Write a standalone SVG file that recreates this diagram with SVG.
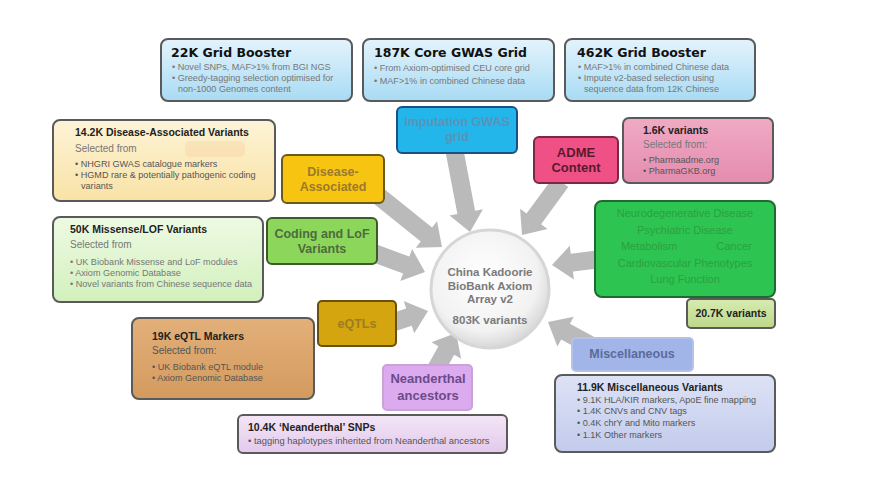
<svg xmlns="http://www.w3.org/2000/svg" width="881" height="497" viewBox="0 0 881 497">
<defs>
<linearGradient id="gBlue" x1="0" y1="0" x2="0" y2="1"><stop offset="0" stop-color="#e4f3fc"/><stop offset="1" stop-color="#a8dbf4"/></linearGradient>
<linearGradient id="gCream" x1="0" y1="0" x2="0" y2="1"><stop offset="0" stop-color="#fdf3d6"/><stop offset="1" stop-color="#f9e2a6"/></linearGradient>
<linearGradient id="gLGreen" x1="0" y1="0" x2="0" y2="1"><stop offset="0" stop-color="#eefae4"/><stop offset="1" stop-color="#d2f0bc"/></linearGradient>
<linearGradient id="gTan" x1="0" y1="0" x2="0" y2="1"><stop offset="0" stop-color="#e3b07a"/><stop offset="1" stop-color="#d39a5e"/></linearGradient>
<linearGradient id="gLav" x1="0" y1="0" x2="0" y2="1"><stop offset="0" stop-color="#f3e6f6"/><stop offset="1" stop-color="#e3c9ec"/></linearGradient>
<linearGradient id="gPink" x1="0" y1="0" x2="0" y2="1"><stop offset="0" stop-color="#f0aac4"/><stop offset="1" stop-color="#e48cae"/></linearGradient>
<linearGradient id="gPeri" x1="0" y1="0" x2="0" y2="1"><stop offset="0" stop-color="#dde2f5"/><stop offset="1" stop-color="#c3cbec"/></linearGradient>
<linearGradient id="gOlive" x1="0" y1="0" x2="0" y2="1"><stop offset="0" stop-color="#d8ebb0"/><stop offset="1" stop-color="#bcd88a"/></linearGradient>
<radialGradient id="gCircle" cx="0.45" cy="0.4" r="0.65"><stop offset="0" stop-color="#ffffff"/><stop offset="0.7" stop-color="#f2f2f2"/><stop offset="1" stop-color="#cfcfcf"/></radialGradient>
</defs>
<style>
.info{stroke:#5a5a5a;stroke-width:2}
.cat{stroke-width:2}
.ttl{font-family:"DejaVu Sans",sans-serif;font-weight:bold;font-size:12.5px;fill:#111}
.hd{font-family:"Liberation Sans",Arial,sans-serif;font-weight:bold;font-size:10.5px;fill:#222}
.sel{font-family:"Liberation Sans",Arial,sans-serif;font-size:10px;fill:#777}
.bl{font-family:"Liberation Sans",Arial,sans-serif;font-size:9.1px;fill:#777}
.bld{font-family:"Liberation Sans",Arial,sans-serif;font-size:9.1px;fill:#555}
.lbl{font-family:"Liberation Sans",Arial,sans-serif;font-weight:bold;font-size:12.5px;text-anchor:middle}
.arr{fill:#bababa}
</style>
<rect width="881" height="497" fill="#ffffff"/>

<g id="connectors">
<path class="arr" transform="translate(470,232) rotate(79.2)" d="M0,0 L-20,-17 L-20,-9 L-82,-9 L-82,9 L-20,9 L-20,17 Z"/>
<path class="arr" transform="translate(522,235) rotate(126.2)" d="M0,0 L-20,-17 L-20,-9 L-66,-9 L-66,9 L-20,9 L-20,17 Z"/>
<path class="arr" transform="translate(442,247) rotate(38.8)" d="M0,0 L-20,-17 L-20,-9 L-99,-9 L-99,9 L-20,9 L-20,17 Z"/>
<path class="arr" transform="translate(425,272) rotate(20.3)" d="M0,0 L-20,-17 L-20,-9 L-72,-9 L-72,9 L-20,9 L-20,17 Z"/>
<path class="arr" transform="translate(428,311) rotate(-18)" d="M0,0 L-20,-17 L-20,-9 L-48,-9 L-48,9 L-20,9 L-20,17 Z"/>
<path class="arr" transform="translate(456,333) rotate(-61)" d="M0,0 L-20,-17 L-20,-9 L-50,-9 L-50,9 L-20,9 L-20,17 Z"/>
<path class="arr" transform="translate(552,265) rotate(173)" d="M0,0 L-20,-17 L-20,-9 L-62,-9 L-62,9 L-20,9 L-20,17 Z"/>
<path class="arr" transform="translate(548,322) rotate(208.7)" d="M0,0 L-20,-17 L-20,-9 L-50,-9 L-50,9 L-20,9 L-20,17 Z"/>
</g>

<g id="center">
<circle cx="490" cy="289" r="59" fill="url(#gCircle)" stroke="#d6d6d6" stroke-width="3"/>
<g class="lbl" fill="#7a7a7a" style="font-size:11.5px">
<text x="490" y="276">China Kadoorie</text>
<text x="490" y="290">BioBank Axiom</text>
<text x="490" y="303">Array v2</text>
<text x="490" y="324">803K variants</text>
</g>
</g>

<g id="grid22k">
<rect class="info" x="161" y="39" width="191" height="62" rx="7" fill="url(#gBlue)"/>
<text class="ttl" x="171" y="57">22K Grid Booster</text>
<text class="bl" x="172" y="70">•  Novel SNPs, MAF&gt;1% from BGI NGS</text>
<text class="bl" x="172" y="81">•  Greedy-tagging selection optimised for</text>
<text class="bl" x="178" y="92">non-1000 Genomes content</text>
</g>

<g id="grid187k">
<rect class="info" x="363" y="39" width="191" height="62" rx="7" fill="url(#gBlue)"/>
<text class="ttl" x="374" y="57">187K Core GWAS Grid</text>
<text class="bl" x="374" y="71">•  From Axiom-optimised CEU core grid</text>
<text class="bl" x="374" y="84">•  MAF&gt;1% in combined Chinese data</text>
</g>

<g id="grid462k">
<rect class="info" x="565" y="39" width="190" height="62" rx="7" fill="url(#gBlue)"/>
<text class="ttl" x="577" y="57">462K Grid Booster</text>
<text class="bl" x="578" y="70">•  MAF&gt;1% in combined Chinese data</text>
<text class="bl" x="578" y="81">•  Impute v2-based selection using</text>
<text class="bl" x="584" y="92">sequence data from 12K Chinese</text>
</g>

<g id="imputation">
<rect class="cat" x="397" y="107" width="120" height="46" rx="5" fill="#22b6eb" stroke="#1d4f86"/>
<text class="lbl" x="457" y="126" fill="#5b93b8">Imputation GWAS</text>
<text class="lbl" x="457" y="141" fill="#5b93b8">grid</text>
</g>

<g id="adme">
<rect class="cat" x="534" y="137" width="84" height="46" rx="5" fill="#ef5186" stroke="#7a2a40"/>
<text class="lbl" x="576" y="157" fill="#5a1a2e" style="font-size:13px">ADME</text>
<text class="lbl" x="576" y="172" fill="#5a1a2e" style="font-size:13px">Content</text>
</g>

<g id="adme-info">
<rect class="info" x="623" y="118" width="150" height="65" rx="6" fill="url(#gPink)"/>
<text class="hd" x="643" y="134">1.6K variants</text>
<text class="sel" x="643" y="148">Selected from:</text>
<text class="bld" x="643" y="163">•  Pharmaadme.org</text>
<text class="bld" x="643" y="174">•  PharmaGKB.org</text>
</g>

<g id="disease">
<rect class="cat" x="282" y="155" width="102" height="48" rx="5" fill="#f7c511" stroke="#6a5a1a"/>
<text class="lbl" x="333" y="176" fill="#9a7a2c">Disease-</text>
<text class="lbl" x="333" y="191" fill="#9a7a2c">Associated</text>
</g>

<g id="disease-info">
<rect class="info" x="53" y="120" width="222" height="81" rx="7" fill="url(#gCream)"/>
<rect x="185" y="141" width="60" height="16" rx="5" fill="#f7d4a4" opacity="0.45"/>
<text class="hd" x="75" y="136">14.2K Disease-Associated Variants</text>
<text class="sel" x="75" y="152">Selected from</text>
<text class="bld" x="75" y="167">•  NHGRI GWAS catalogue markers</text>
<text class="bld" x="75" y="178">•  HGMD rare &amp; potentially pathogenic coding</text>
<text class="bld" x="81" y="189">variants</text>
</g>

<g id="coding">
<rect class="cat" x="267" y="218" width="110" height="46" rx="5" fill="#8dd65c" stroke="#3e5a2a"/>
<text class="lbl" x="322" y="238" fill="#4d6b3d">Coding and LoF</text>
<text class="lbl" x="322" y="253" fill="#4d6b3d">Variants</text>
</g>

<g id="coding-info">
<rect class="info" x="53" y="217" width="210" height="85" rx="7" fill="url(#gLGreen)"/>
<text class="hd" x="70" y="233">50K Missense/LOF Variants</text>
<text class="sel" x="70" y="248">Selected from</text>
<text class="bl" x="70" y="265">•  UK Biobank Missense and LoF modules</text>
<text class="bl" x="70" y="276">•  Axiom Genomic Database</text>
<text class="bl" x="70" y="287">•  Novel variants from Chinese sequence data</text>
</g>

<g id="eqtl">
<rect class="cat" x="318" y="301" width="78" height="45" rx="4" fill="#d4a50f" stroke="#6a5010"/>
<text class="lbl" x="357" y="328" fill="#9c7d22">eQTLs</text>
</g>

<g id="eqtl-info">
<rect class="info" x="132" y="318" width="182" height="81" rx="7" fill="url(#gTan)"/>
<text class="hd" x="152" y="340">19K eQTL Markers</text>
<text class="sel" x="152" y="354" style="fill:#555">Selected from:</text>
<text class="bld" x="152" y="370">•  UK Biobank eQTL module</text>
<text class="bld" x="152" y="381">•  Axiom Genomic Database</text>
</g>

<g id="neanderthal">
<rect class="cat" x="383" y="365" width="89" height="45" rx="4" fill="#dcaaef" stroke="#c9a2d8"/>
<text class="lbl" x="428" y="383" fill="#6b4b8a" style="font-size:13px">Neanderthal</text>
<text class="lbl" x="428" y="400" fill="#6b4b8a" style="font-size:13px">ancestors</text>
</g>

<g id="neanderthal-info">
<rect class="info" x="238" y="415" width="269" height="38" rx="5" fill="url(#gLav)"/>
<text class="hd" x="248" y="431">10.4K ‘Neanderthal’ SNPs</text>
<text class="bld" x="248" y="444" style="font-size:9.4px">•  tagging haplotypes inherited from Neanderthal ancestors</text>
</g>

<g id="phenotypes">
<rect x="595" y="201" width="180" height="96" rx="7" fill="#2ec451" stroke="#1f6a2e" stroke-width="2"/>
<g font-family="Liberation Sans, Arial, sans-serif" font-size="11px" fill="#2aa13f" text-anchor="middle">
<text x="685" y="217">Neurodegenerative Disease</text>
<text x="685" y="234">Psychiatric Disease</text>
<text x="649" y="250">Metabolism</text>
<text x="734" y="250">Cancer</text>
<text x="685" y="267">Cardiovascular Phenotypes</text>
<text x="685" y="283">Lung Function</text>
</g>
</g>

<g id="phenotypes-info">
<rect class="info" x="687" y="299" width="88" height="29" rx="4" fill="url(#gOlive)"/>
<text class="hd" x="731" y="317" text-anchor="middle">20.7K variants</text>
</g>

<g id="misc">
<rect class="cat" x="572" y="338" width="121" height="33" rx="4" fill="#a1b5e9" stroke="#b4c2ea"/>
<text class="lbl" x="632" y="358" fill="#5b6b9b">Miscellaneous</text>
</g>

<g id="misc-info">
<rect class="info" x="555" y="375" width="220" height="77" rx="7" fill="url(#gPeri)"/>
<text class="hd" x="577" y="391">11.9K Miscellaneous Variants</text>
<text class="bld" x="577" y="403">•  9.1K HLA/KIR markers, ApoE fine mapping</text>
<text class="bld" x="577" y="414">•  1.4K CNVs and CNV tags</text>
<text class="bld" x="577" y="426">•  0.4K chrY and Mito markers</text>
<text class="bld" x="577" y="438">•  1.1K Other markers</text>
</g>
</svg>
